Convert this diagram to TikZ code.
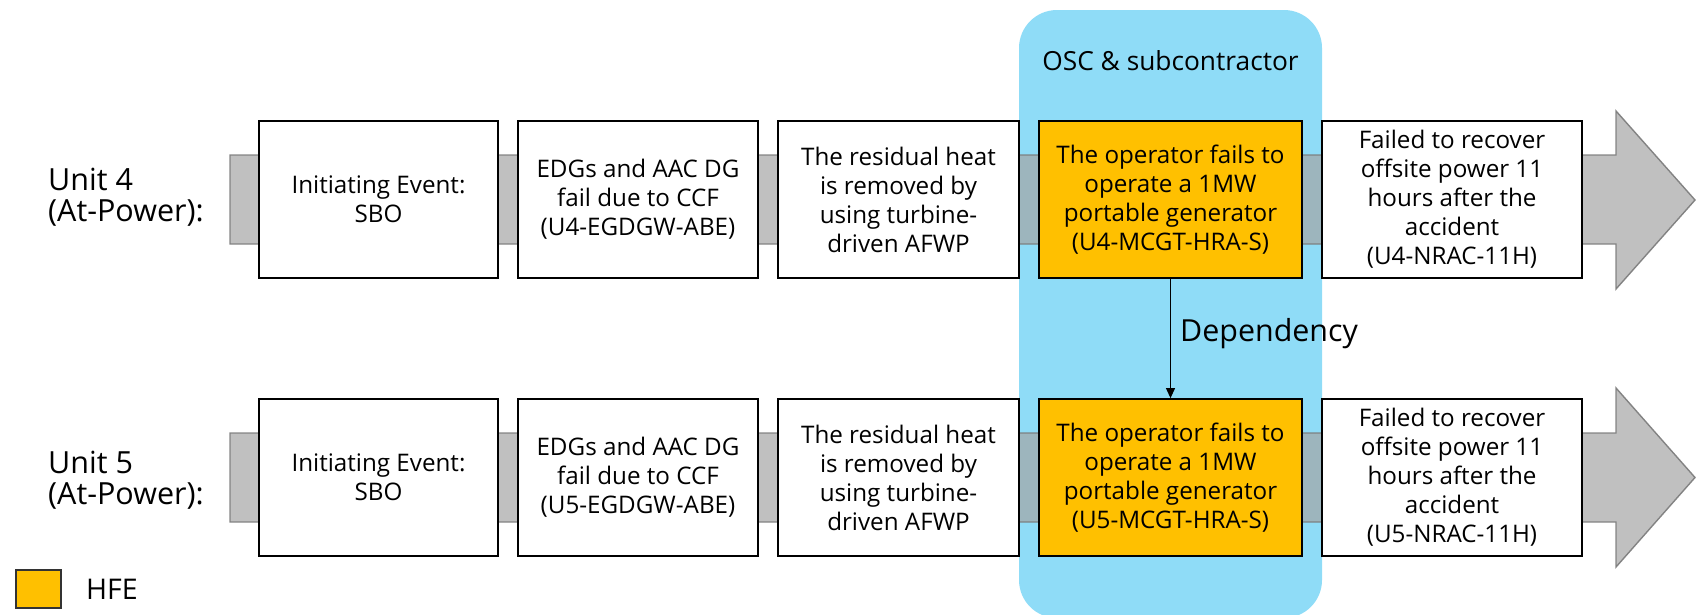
\documentclass[tikz,border=0pt]{standalone}
\usepackage{fontspec}
\setmainfont{Open Sans}
\usetikzlibrary{arrows.meta}
\definecolor{oscblue}{HTML}{8FDCF7}
\definecolor{hfeorange}{HTML}{FFC000}
\definecolor{shaftgray}{HTML}{A4A4A4}
\definecolor{shaftline}{HTML}{7A7A7A}
\begin{document}
\begin{tikzpicture}[x=1pt,y=-1pt,
  boxtext/.style={font=\fontsize{24.2}{29}\selectfont},
  stepbox/.style={boxtext, draw=black, line width=1.8pt, fill=white,
    inner sep=0pt, align=center, minimum height=157pt},
  hfebox/.style={stepbox, fill=hfeorange},
  flowarrow/.style={fill=shaftgray, fill opacity=0.69, draw=shaftline,
    draw opacity=0.9, line width=1.4pt, line join=miter},
  unitlabel/.style={anchor=west, align=left, inner sep=0pt,
    font=\fontsize{30.5}{31}\selectfont},
  deparrow/.style={-{Triangle[length=10pt,width=9pt]}, line width=1pt}]
\useasboundingbox (0,0) rectangle (1696,614);

% organisational group band
\fill[oscblue, rounded corners=38pt] (1019,10) rectangle (1322,618);
\node[inner sep=0pt, font=\fontsize{26.3}{30}\selectfont] (osc) at (1170.5,61) {OSC \& subcontractor};

% event-sequence arrows
\path[flowarrow] (230,155) -- (1616,155) -- (1616,111) -- (1695,200)
  -- (1616,289) -- (1616,244) -- (230,244) -- cycle;
\path[flowarrow] (230,433) -- (1616,433) -- (1616,388) -- (1695,477.5)
  -- (1616,567) -- (1616,522) -- (230,522) -- cycle;

% Unit 4 sequence
\node[unitlabel] (unit4) at (48,197) {Unit 4\\(At-Power):};
\node[stepbox, minimum width=239pt] (ie4) at (378.5,199.5) {Initiating Event:\\SBO};
\node[stepbox, minimum width=240pt] (dg4) at (638,199.5) {EDGs and AAC DG\\fail due to CCF\\(U4-EGDGW-ABE)};
\node[stepbox, minimum width=241pt] (rh4) at (898.5,199.5) {The residual heat\\is removed by\\using turbine-\\driven AFWP};
\node[hfebox, minimum width=263pt] (op4) at (1170.5,199.5) {The operator fails to\\operate a 1MW\\portable generator\\(U4-MCGT-HRA-S)};
\node[stepbox, minimum width=260pt] (nr4) at (1452,199.5) {Failed to recover\\offsite power 11\\hours after the\\accident\\(U4-NRAC-11H)};

% Unit 5 sequence
\node[unitlabel] (unit5) at (48,480) {Unit 5\\(At-Power):};
\node[stepbox, minimum width=239pt] (ie5) at (378.5,477.5) {Initiating Event:\\SBO};
\node[stepbox, minimum width=240pt] (dg5) at (638,477.5) {EDGs and AAC DG\\fail due to CCF\\(U5-EGDGW-ABE)};
\node[stepbox, minimum width=241pt] (rh5) at (898.5,477.5) {The residual heat\\is removed by\\using turbine-\\driven AFWP};
\node[hfebox, minimum width=263pt] (op5) at (1170.5,477.5) {The operator fails to\\operate a 1MW\\portable generator\\(U5-MCGT-HRA-S)};
\node[stepbox, minimum width=260pt] (nr5) at (1452,477.5) {Failed to recover\\offsite power 11\\hours after the\\accident\\(U5-NRAC-11H)};

% dependency between the two HFEs
\draw[deparrow] (op4.south) -- (op5.north);
\node[anchor=west, inner sep=0pt, font=\fontsize{30.4}{31}\selectfont] (dep) at (1180,334) {Dependency};

% legend
\node[draw=black!80, line width=1.2pt, fill=hfeorange, minimum width=45pt,
  minimum height=38pt, inner sep=0pt] (legendbox) at (38.5,589) {};
\node[anchor=west, inner sep=0pt, font=\fontsize{28.5}{30}\selectfont] (legendtext) at (86,589) {HFE};
\end{tikzpicture}
\end{document}
